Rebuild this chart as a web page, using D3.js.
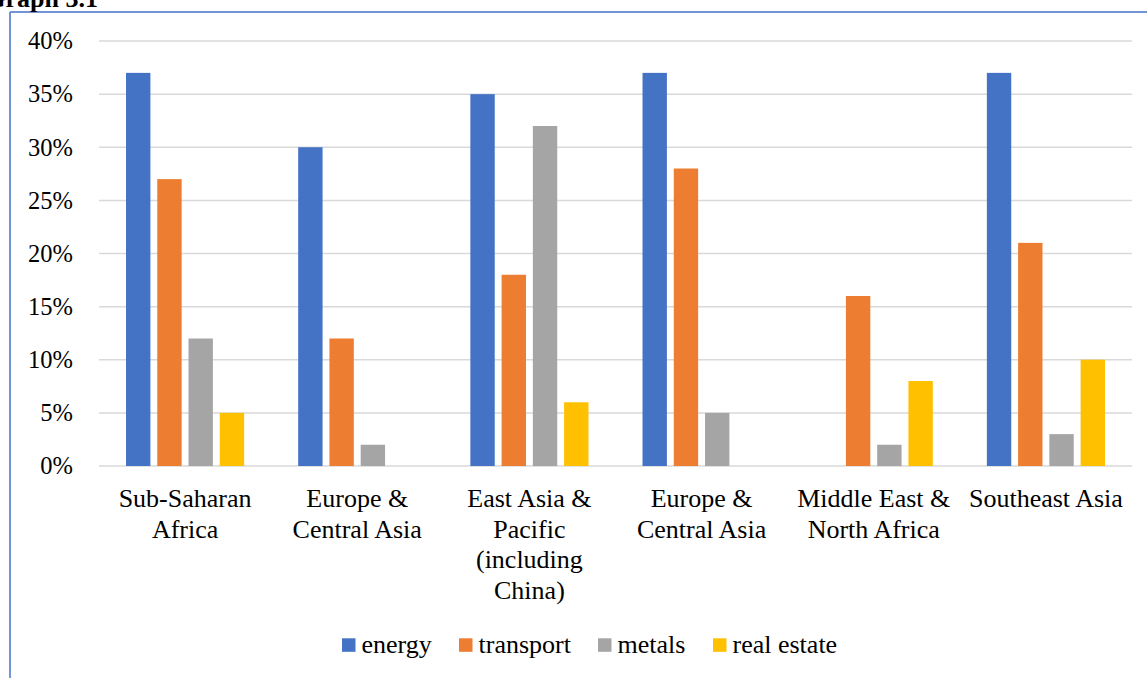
<!DOCTYPE html>
<html>
<head>
<meta charset="utf-8">
<script src="https://cdn.jsdelivr.net/npm/d3@7"></script>
<style>
  html, body { margin: 0; padding: 0; background: #fff; }
  svg { display: block; font-family: "Liberation Serif", "Times New Roman", serif; }
</style>
</head>
<body>
<svg id="chart" width="1147" height="678"></svg>
<script>
// data
const categories = [
  ["Sub-Saharan", "Africa"],
  ["Europe &", "Central Asia"],
  ["East Asia &", "Pacific", "(including", "China)"],
  ["Europe &", "Central Asia"],
  ["Middle East &", "North Africa"],
  ["Southeast Asia"]
];
const seriesNames = ["energy", "transport", "metals", "real estate"];
const energy     = [37, 30, 35, 37, 0, 37];
const transport  = [27, 12, 18, 28, 16, 21];
const metals     = [12, 2, 32, 5, 2, 3];
const realEstate = [5, 0, 6, 0, 8, 10];
const yTicks = [0, 5, 10, 15, 20, 25, 30, 35, 40];

const colors = ["#4472C4", "#ED7D31", "#A5A5A5", "#FFC000"];
const seriesValues = [energy, transport, metals, realEstate];

const svg = d3.select("#chart");

// frame (blue border, top and left)
svg.append("line").attr("x1", 10).attr("x2", 1147).attr("y1", 12).attr("y2", 12)
   .attr("stroke", "#4472C4").attr("stroke-width", 1.5);
svg.append("line").attr("x1", 10).attr("x2", 10).attr("y1", 12).attr("y2", 678)
   .attr("stroke", "#4472C4").attr("stroke-width", 1.5);

// heading, cut off at the page edge like the original
svg.append("text").attr("x", 98).attr("y", 7).attr("text-anchor", "end")
   .attr("font-weight", "bold").attr("font-size", 26).attr("fill", "#000")
   .text("Graph 3.1");

const plotLeft = 99, plotRight = 1132, plotTop = 41, plotBottom = 466;

const x0 = d3.scaleBand().domain(d3.range(categories.length)).range([plotLeft, plotRight]);
const groupInner = 125;
const x1 = d3.scaleBand().domain(d3.range(seriesNames.length))
   .range([0, groupInner]).paddingInner(0.22).paddingOuter(0.11);
const y = d3.scaleLinear().domain([0, 40]).range([plotBottom, plotTop]);

// gridlines
svg.append("g").selectAll("line").data(yTicks).join("line")
   .attr("x1", plotLeft).attr("x2", plotRight)
   .attr("y1", d => y(d)).attr("y2", d => y(d))
   .attr("stroke", "#D9D9D9").attr("stroke-width", 1.5);

// y labels
svg.append("g").selectAll("text").data(yTicks).join("text")
   .attr("x", 73).attr("y", d => y(d)).attr("dy", "0.34em")
   .attr("text-anchor", "end").attr("font-size", 24.5).attr("fill", "#000")
   .text(d => d + "%");

// bars
const groups = svg.append("g").selectAll("g").data(categories).join("g")
   .attr("transform", (d, i) => `translate(${x0(i) + (x0.bandwidth() - groupInner) / 2},0)`);

groups.selectAll("rect")
   .data((d, i) => seriesValues.map((s, k) => ({ k, v: s[i] })).filter(e => e.v > 0))
   .join("rect")
   .attr("x", e => x1(e.k))
   .attr("width", x1.bandwidth())
   .attr("y", e => y(e.v))
   .attr("height", e => y(0) - y(e.v))
   .attr("fill", e => colors[e.k]);

// category labels
const catLabels = svg.append("g").selectAll("text").data(categories).join("text")
   .attr("x", (d, i) => x0(i) + x0.bandwidth() / 2)
   .attr("y", 507)
   .attr("text-anchor", "middle").attr("font-size", 26).attr("fill", "#000");
catLabels.selectAll("tspan").data(d => d).join("tspan")
   .attr("x", function () { return d3.select(this.parentNode).attr("x"); })
   .attr("dy", (d, j) => j === 0 ? 0 : 30.5)
   .text(d => d);

// legend
const legendX = [342, 459, 598, 713];
const legend = svg.append("g").selectAll("g").data(seriesNames).join("g")
   .attr("transform", (d, i) => `translate(${legendX[i]},645)`);
legend.append("rect").attr("x", 0).attr("y", -6.7).attr("width", 13.5).attr("height", 13.5)
   .attr("fill", (d, i) => colors[i]);
legend.append("text").attr("x", 19.5).attr("y", 8)
   .attr("font-size", 26).attr("fill", "#000").text(d => d);
</script>
</body>
</html>
